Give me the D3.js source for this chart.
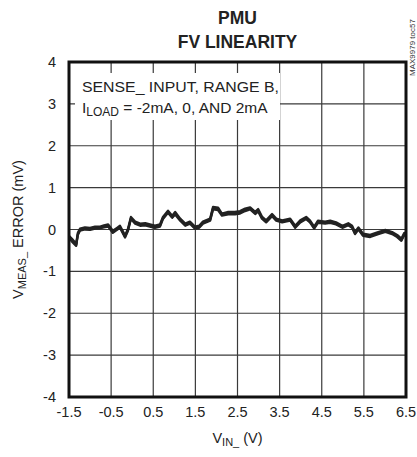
<!DOCTYPE html>
<html>
<head>
<meta charset="utf-8">
<script src="https://cdn.jsdelivr.net/npm/d3@7"></script>
<style>
  html, body { margin: 0; padding: 0; background: #fff; }
  svg { display: block; font-family: "Liberation Sans", Arial, sans-serif; }
</style>
</head>
<body>
<svg id="chart" width="417" height="457"></svg>
<script>
// ---- data ----
const xTicks = [-1.5, -0.5, 0.5, 1.5, 2.5, 3.5, 4.5, 5.5, 6.5];
const xTickLabels = ["-1.5", "-0.5", "0.5", "1.5", "2.5", "3.5", "4.5", "5.5", "6.5"];
const yTicks = [-4, -3, -2, -1, 0, 1, 2, 3, 4];
const yTickLabels = ["-4", "-3", "-2", "-1", "0", "1", "2", "3", "4"];
const vin = [-1.5, -1.43, -1.33, -1.29, -1.24, -1.12, -1.0, -0.88, -0.76, -0.67, -0.57, -0.46, -0.36, -0.29, -0.17, -0.1, -0.03, 0.07, 0.19, 0.31, 0.42, 0.54, 0.66, 0.73, 0.85, 0.95, 1.02, 1.14, 1.26, 1.37, 1.49, 1.59, 1.68, 1.85, 1.92, 2.04, 2.13, 2.28, 2.44, 2.56, 2.68, 2.8, 2.92, 2.99, 3.08, 3.18, 3.32, 3.42, 3.56, 3.75, 3.87, 3.99, 4.13, 4.22, 4.32, 4.41, 4.58, 4.7, 4.84, 4.99, 5.13, 5.22, 5.29, 5.37, 5.48, 5.65, 5.84, 6.01, 6.17, 6.29, 6.39, 6.46, 6.5];
const errNeg2mA = [-0.15, -0.22, -0.34, -0.08, 0.02, 0.05, 0.04, 0.07, 0.07, 0.1, 0.12, -0.03, 0.04, 0.09, -0.14, 0.02, 0.3, 0.19, 0.14, 0.15, 0.12, 0.09, 0.12, 0.3, 0.45, 0.33, 0.42, 0.26, 0.14, 0.19, 0.07, 0.09, 0.19, 0.26, 0.54, 0.52, 0.38, 0.42, 0.42, 0.44, 0.5, 0.53, 0.42, 0.49, 0.31, 0.22, 0.37, 0.26, 0.22, 0.26, 0.09, 0.22, 0.3, 0.22, 0.07, 0.21, 0.19, 0.21, 0.17, 0.09, 0.15, 0.09, -0.06, 0.05, -0.1, -0.13, -0.06, -0.01, -0.06, -0.13, -0.22, -0.08, -0.1];
const err0mA = [-0.18, -0.26, -0.37, -0.11, -0.01, 0.02, 0.01, 0.04, 0.04, 0.07, 0.09, -0.06, 0.01, 0.06, -0.17, -0.01, 0.27, 0.16, 0.11, 0.12, 0.09, 0.06, 0.09, 0.27, 0.42, 0.3, 0.39, 0.23, 0.11, 0.16, 0.04, 0.06, 0.16, 0.23, 0.51, 0.49, 0.35, 0.39, 0.39, 0.41, 0.47, 0.5, 0.39, 0.46, 0.28, 0.19, 0.34, 0.23, 0.19, 0.23, 0.06, 0.19, 0.27, 0.19, 0.04, 0.18, 0.16, 0.18, 0.14, 0.06, 0.12, 0.06, -0.09, 0.02, -0.13, -0.16, -0.09, -0.04, -0.09, -0.16, -0.25, -0.11, -0.13];
const errPos2mA = [-0.2, -0.29, -0.39, -0.13, -0.03, 0.0, -0.01, 0.02, 0.03, 0.05, 0.07, -0.08, -0.01, 0.04, -0.19, -0.03, 0.25, 0.14, 0.09, 0.1, 0.07, 0.04, 0.07, 0.25, 0.4, 0.28, 0.36, 0.21, 0.09, 0.14, 0.02, 0.04, 0.14, 0.21, 0.48, 0.46, 0.33, 0.36, 0.36, 0.38, 0.44, 0.48, 0.37, 0.43, 0.26, 0.17, 0.32, 0.21, 0.17, 0.21, 0.04, 0.17, 0.25, 0.17, 0.02, 0.16, 0.14, 0.16, 0.12, 0.04, 0.1, 0.04, -0.11, 0.0, -0.15, -0.18, -0.11, -0.06, -0.11, -0.18, -0.27, -0.13, -0.15];
const seriesList = [errNeg2mA, err0mA, errPos2mA];

// ---- layout ----
const svg = d3.select("#chart");
const L = 69, R = 406, T = 62, B = 397;
const x = d3.scaleLinear().domain([-1.5, 6.5]).range([L, R]);
const y = d3.scaleLinear().domain([-4, 4]).range([B, T]);

// gridlines
const grid = svg.append("g");
grid.selectAll("line.v").data(xTicks.slice(1, -1)).join("line")
  .attr("x1", d => x(d)).attr("x2", d => x(d))
  .attr("y1", T).attr("y2", B)
  .attr("stroke", "#3a3a3a").attr("stroke-width", 1.2);
grid.selectAll("line.h").data(yTicks.slice(1, -1)).join("line")
  .attr("x1", L).attr("x2", R)
  .attr("y1", d => y(d)).attr("y2", d => y(d))
  .attr("stroke", "#3a3a3a").attr("stroke-width", 1.2);

// annotation box background
svg.append("rect").attr("x", 75).attr("y", 73).attr("width", 205).attr("height", 47).attr("fill", "#fff");
const ann = svg.append("g").attr("font-size", 15.5).attr("fill", "#222");
ann.append("text").attr("x", 82).attr("y", 92).attr("textLength", 197).attr("lengthAdjust", "spacingAndGlyphs")
  .text("SENSE_ INPUT, RANGE B,");
const t2 = ann.append("text").attr("x", 82).attr("y", 113);
t2.append("tspan").text("I");
t2.append("tspan").attr("font-size", 12).attr("dy", 3).text("LOAD");
t2.append("tspan").attr("dy", -3).text(" = -2mA, 0, AND 2mA");

// data lines
const line = d3.line().x((d, i) => x(vin[i])).y(d => y(d)).curve(d3.curveLinear);
svg.append("g").selectAll("path").data(seriesList).join("path")
  .attr("d", line)
  .attr("fill", "none").attr("stroke", "#222").attr("stroke-width", 2.3)
  .attr("stroke-linejoin", "round");

// frame
svg.append("rect").attr("x", L).attr("y", T).attr("width", R - L).attr("height", B - T)
  .attr("fill", "none").attr("stroke", "#111").attr("stroke-width", 3);

// axes tick labels
svg.append("g").selectAll("text").data(yTicks).join("text")
  .attr("x", 56).attr("y", (d, i) => y(d) + 5)
  .attr("text-anchor", "end").attr("font-size", 14.5).attr("fill", "#222")
  .text((d, i) => yTickLabels[i]);
svg.append("g").selectAll("text").data(xTicks).join("text")
  .attr("x", d => x(d)).attr("y", 417)
  .attr("text-anchor", "middle").attr("font-size", 14.5).attr("fill", "#222")
  .text((d, i) => xTickLabels[i]);

// axis titles
const xt = svg.append("text").attr("x", (L + R) / 2).attr("y", 443)
  .attr("text-anchor", "middle").attr("font-size", 14.5).attr("fill", "#222");
xt.append("tspan").text("V");
xt.append("tspan").attr("font-size", 11).attr("dy", 3).text("IN_");
xt.append("tspan").attr("dy", -3).text(" (V)");

const yt = svg.append("text").attr("transform", `translate(23,${(T + B) / 2}) rotate(-90)`)
  .attr("text-anchor", "middle").attr("font-size", 14.5).attr("fill", "#222");
yt.append("tspan").text("V");
yt.append("tspan").attr("font-size", 11).attr("dy", 3).text("MEAS_");
yt.append("tspan").attr("dy", -3).text(" ERROR (mV)");

// title
const title = svg.append("g").attr("font-weight", "bold").attr("font-size", 17.5).attr("fill", "#222")
  .attr("text-anchor", "middle");
title.append("text").attr("x", (L + R) / 2).attr("y", 24).text("PMU");
title.append("text").attr("x", (L + R) / 2).attr("y", 48).text("FV LINEARITY");

// watermark
svg.append("text").attr("transform", "translate(415,76) rotate(-90)")
  .attr("font-size", 8).attr("fill", "#333").text("MAX9979 toc57");
</script>
</body>
</html>
